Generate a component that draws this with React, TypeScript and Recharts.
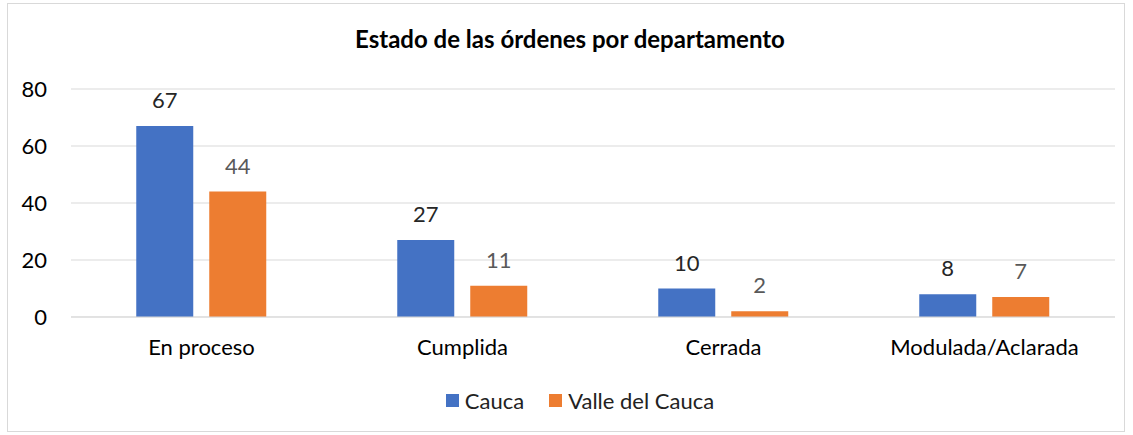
import React from 'react';
import { BarChart, Bar, XAxis, YAxis, CartesianGrid, Legend, LabelList } from 'recharts';

const categories = ['En proceso', 'Cumplida', 'Cerrada', 'Modulada/Aclarada'];
const caucaValues = [67, 27, 10, 8];
const valleValues = [44, 11, 2, 7];
const yTicks = [0, 20, 40, 60, 80];

const data = categories.map((name, i) => ({
  name,
  cauca: caucaValues[i],
  valle: valleValues[i],
}));

const FONT = 'Lato, "Open Sans", sans-serif';

const LegendContent = () => (
  <div
    style={{
      display: 'flex', justifyContent: 'center', alignItems: 'center', height: 30,
      paddingLeft: 14, fontFamily: FONT, fontSize: 22, color: '#222',
    }}
  >
    <span style={{ display: 'flex', alignItems: 'center', marginRight: 25 }}>
      <span style={{ width: 13, height: 13, background: '#4472C4', marginRight: 6, display: 'inline-block' }} />
      Cauca
    </span>
    <span style={{ display: 'flex', alignItems: 'center' }}>
      <span style={{ width: 13, height: 13, background: '#ED7D31', marginRight: 6, display: 'inline-block' }} />
      Valle del Cauca
    </span>
  </div>
);

const App: React.FC = () => {
  return (
    <div style={{ position: 'absolute', left: 0, top: 0, width: 1133, height: 435, background: '#fff' }}>
      <div
        style={{
          position: 'absolute', left: 7, top: 3, width: 1118, height: 429,
          border: '1px solid #d9d9d9', boxSizing: 'border-box',
        }}
      />
      <div
        style={{
          position: 'absolute', left: 0, top: 24, width: 1140, textAlign: 'center',
          fontFamily: FONT, fontWeight: 'bold', fontSize: 24, color: '#000',
        }}
      >
        Estado de las órdenes por departamento
      </div>
      <div style={{ position: 'absolute', left: 0, top: 0 }}>
        <BarChart
          width={1133}
          height={435}
          data={data}
          margin={{ top: 89, right: 18, left: 31, bottom: 20 }}
          barCategoryGap="25%"
          barGap={16}
        >
          <CartesianGrid stroke="#d9d9d9" vertical={false} />
          <XAxis
            dataKey="name"
            axisLine={{ stroke: '#d9d9d9' }}
            tickLine={false}
            tickSize={0}
            tickMargin={22}
            height={68}
            tick={{ fill: '#000', fontSize: 22, fontFamily: FONT }}
          />
          <YAxis
            width={40}
            domain={[0, 80]}
            ticks={yTicks}
            axisLine={false}
            tickLine={false}
            tickSize={0}
            tickMargin={24}
            tick={{ fill: '#000', fontSize: 22, fontFamily: FONT }}
          />
          <Legend verticalAlign="bottom" height={30} content={<LegendContent />} />
          <Bar dataKey="cauca" name="Cauca" fill="#4472C4" isAnimationActive={false}>
            <LabelList dataKey="cauca" position="top" offset={18} fill="#262626" fontSize={22} fontFamily={FONT} />
          </Bar>
          <Bar dataKey="valle" name="Valle del Cauca" fill="#ED7D31" isAnimationActive={false}>
            <LabelList dataKey="valle" position="top" offset={18} fill="#595959" fontSize={22} fontFamily={FONT} />
          </Bar>
        </BarChart>
      </div>
    </div>
  );
};

export default App;
